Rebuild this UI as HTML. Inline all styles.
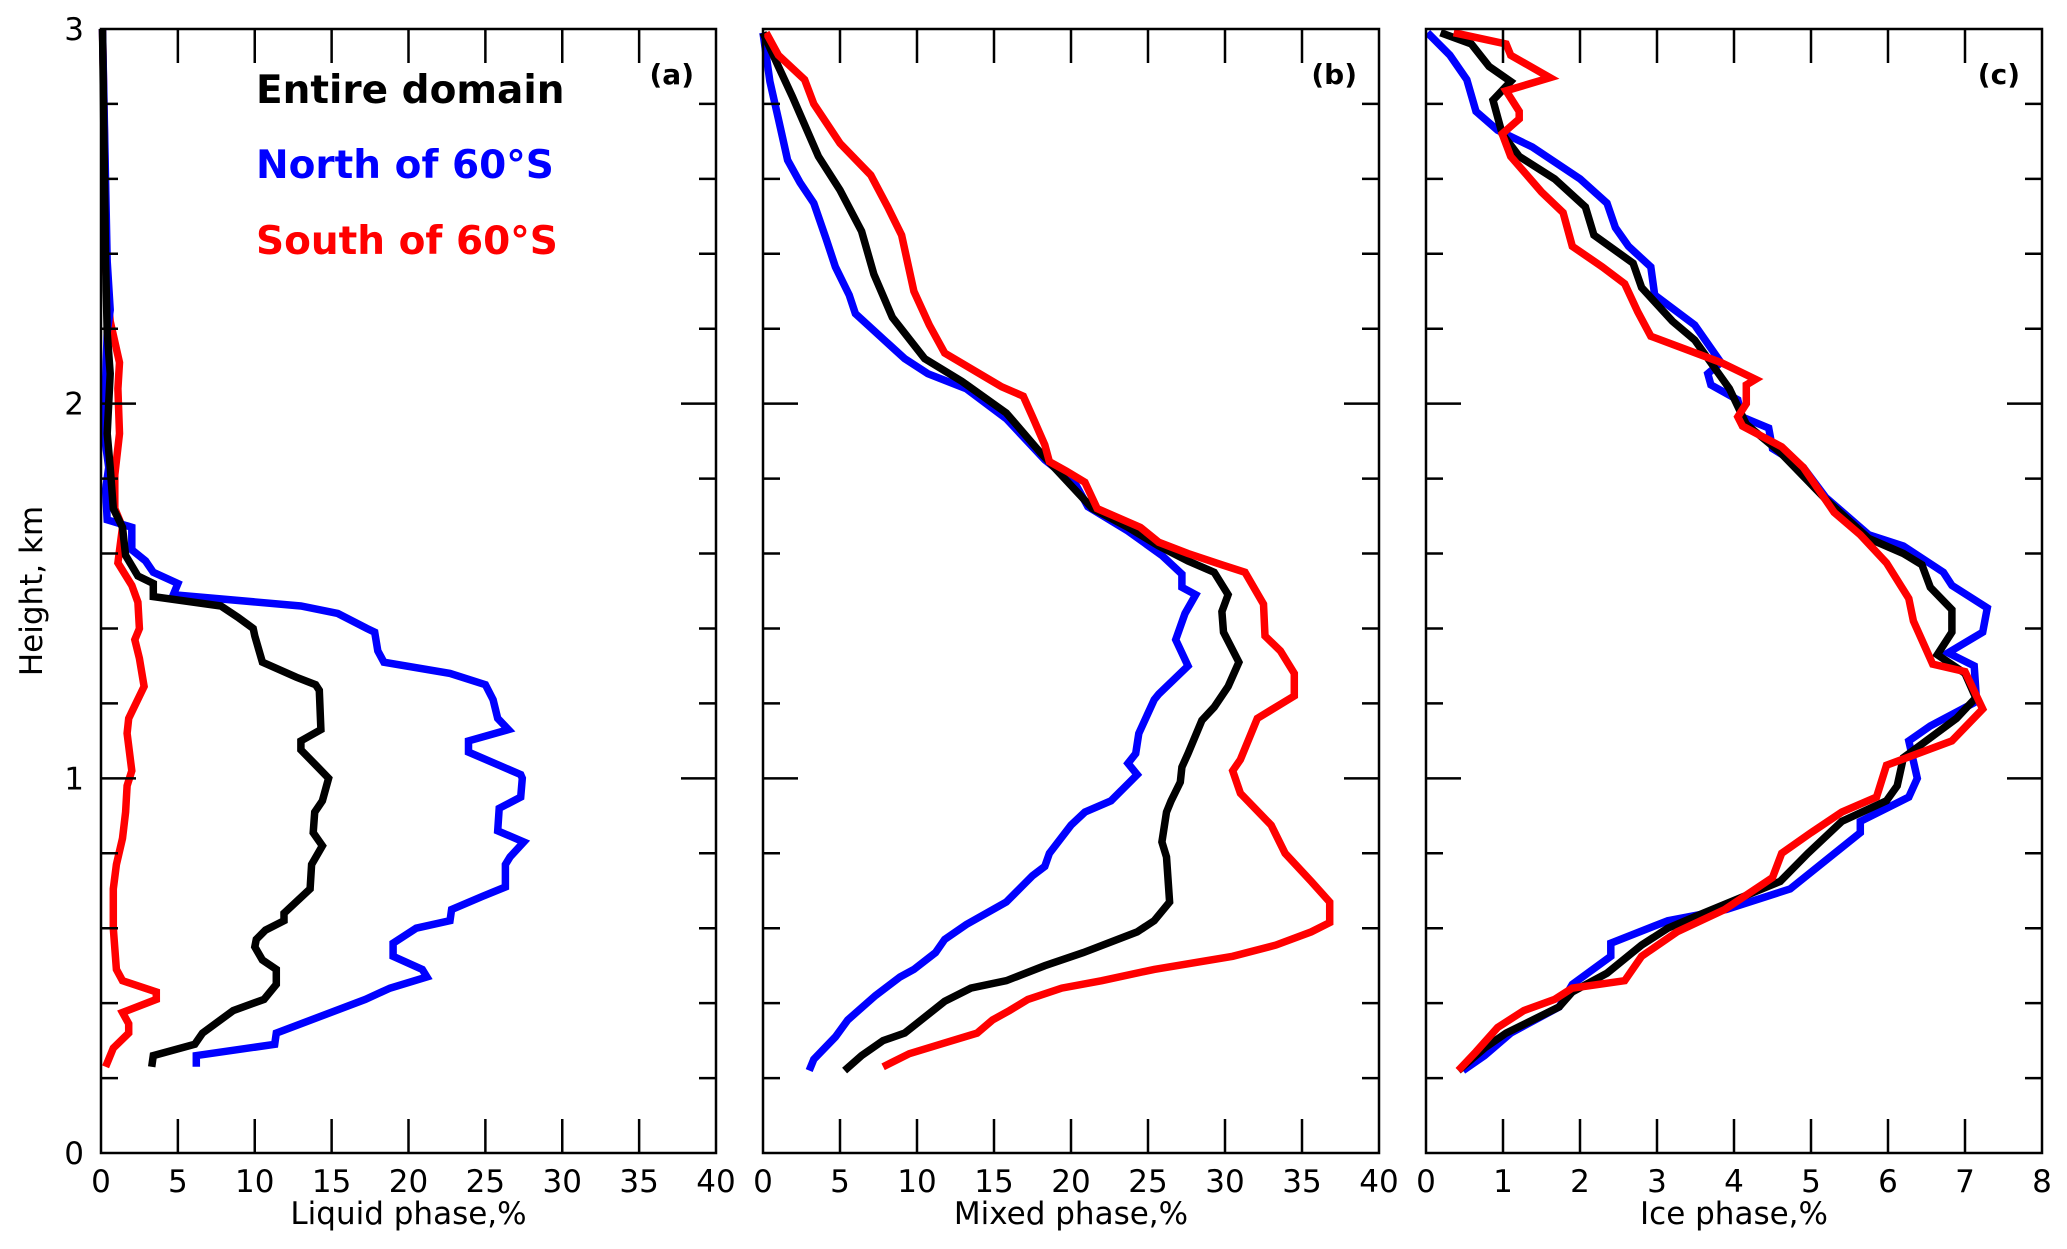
<!DOCTYPE html>
<html><head><meta charset="utf-8"><style>
body{margin:0;background:#fff}
svg text{font-family:"DejaVu Sans","Liberation Sans",sans-serif}
</style></head><body>
<svg id="chart" width="2067" height="1244" viewBox="0 0 2067 1244" xmlns="http://www.w3.org/2000/svg"></svg>
<script>
// Liquid phase (a)
const liqBlueH=[0.23,0.26,0.29,0.32,0.41,0.44,0.47,0.49,0.525,0.56,0.60,0.62,0.65,0.685,0.71,0.77,0.79,0.83,0.86,0.92,0.95,1.0,1.01,1.07,1.10,1.13,1.16,1.21,1.25,1.28,1.31,1.34,1.39,1.40,1.44,1.46,1.49,1.52,1.55,1.58,1.61,1.67,1.69,1.77,1.83,1.92,2.06,2.19,2.25,2.38,2.59,3.0];
const liqBlue=[6.2,6.2,11.3,11.4,17.2,18.8,21.2,20.9,19.0,19.0,20.5,22.7,22.8,24.8,26.3,26.3,26.6,27.5,25.8,25.9,27.3,27.4,27.3,23.9,23.9,26.5,25.8,25.5,25.0,22.7,18.4,18.0,17.8,17.3,15.4,13.0,4.7,5.0,3.4,2.9,2.0,2.0,0.4,0.3,0.5,0.2,0.3,0.4,0.6,0.4,0.3,0.1];
const liqBlackH=[0.23,0.26,0.29,0.32,0.38,0.41,0.45,0.49,0.515,0.55,0.57,0.595,0.62,0.64,0.705,0.77,0.82,0.855,0.91,0.94,1.0,1.03,1.076,1.10,1.13,1.235,1.25,1.27,1.31,1.38,1.40,1.43,1.46,1.485,1.52,1.54,1.595,1.67,1.72,1.83,1.92,2.08,2.19,2.38,3.0];
const liqBlack=[3.3,3.4,6.1,6.6,8.6,10.6,11.4,11.4,10.5,10.0,10.1,10.7,11.9,11.9,13.6,13.7,14.4,13.8,13.9,14.4,14.8,14.1,13.0,13.0,14.3,14.2,13.96,12.7,10.5,10.0,9.9,8.9,7.8,3.4,3.4,2.4,1.6,1.4,0.8,0.6,0.4,0.6,0.4,0.3,0.1];
const liqRedH=[0.23,0.28,0.32,0.345,0.375,0.41,0.43,0.46,0.49,0.60,0.705,0.77,0.84,0.91,0.98,1.02,1.12,1.16,1.245,1.32,1.37,1.40,1.47,1.515,1.575,1.67,1.72,1.81,1.92,2.04,2.11,2.22,2.36,2.55,3.0];
const liqRed=[0.3,0.8,1.8,1.8,1.4,3.6,3.6,1.4,1.0,0.8,0.8,1.0,1.4,1.6,1.7,2.0,1.7,1.8,2.8,2.5,2.2,2.5,2.4,2.0,1.1,1.4,0.9,0.9,1.2,1.1,1.2,0.6,0.3,0.3,0.1];
// Mixed phase (b)
const mixBlueH=[0.22,0.25,0.31,0.355,0.42,0.47,0.49,0.535,0.57,0.61,0.67,0.74,0.765,0.80,0.875,0.91,0.94,1.01,1.04,1.066,1.12,1.21,1.225,1.30,1.37,1.44,1.49,1.51,1.545,1.595,1.66,1.725,1.785,1.85,1.96,2.04,2.08,2.12,2.24,2.29,2.365,2.44,2.535,2.59,2.65,2.76,2.86,2.99];
const mixBlue=[3.0,3.3,4.7,5.5,7.3,8.9,9.8,11.2,11.8,13.2,15.8,17.5,18.3,18.6,20.0,20.9,22.6,24.3,23.7,24.2,24.4,25.4,25.7,27.6,26.8,27.4,28.1,27.2,27.2,25.9,23.7,21.1,20.3,18.3,15.8,13.2,10.7,9.2,6.0,5.6,4.7,4.1,3.3,2.4,1.6,1.0,0.45,0];
const mixBlackH=[0.22,0.26,0.30,0.32,0.405,0.44,0.46,0.50,0.535,0.59,0.62,0.67,0.79,0.83,0.91,0.94,0.99,1.03,1.066,1.155,1.19,1.245,1.31,1.39,1.445,1.49,1.55,1.58,1.62,1.67,1.72,1.795,1.87,1.975,2.06,2.12,2.23,2.345,2.46,2.57,2.66,2.82,2.90,2.99];
const mixBlack=[5.3,6.4,7.8,9.2,11.8,13.5,15.8,18.3,20.8,24.3,25.4,26.4,26.2,25.9,26.2,26.5,27.1,27.2,27.6,28.5,29.3,30.2,30.9,29.9,29.8,30.2,29.3,27.6,25.7,23.7,21.4,19.7,18.0,15.8,12.9,10.5,8.4,7.2,6.4,5.0,3.6,1.9,1.0,0];
const mixRedH=[0.23,0.265,0.29,0.32,0.355,0.38,0.41,0.44,0.46,0.49,0.525,0.555,0.59,0.615,0.67,0.725,0.80,0.875,0.96,1.02,1.05,1.16,1.22,1.28,1.34,1.38,1.465,1.55,1.57,1.60,1.63,1.67,1.72,1.79,1.82,1.845,1.89,1.965,2.02,2.045,2.135,2.21,2.30,2.45,2.525,2.61,2.695,2.80,2.865,2.93,2.99];
const mixRed=[7.8,9.5,11.5,13.9,14.9,16.0,17.2,19.4,22.0,25.4,30.5,33.3,35.6,36.8,36.8,35.6,33.9,33.0,31.0,30.5,31.0,32.1,34.5,34.5,33.6,32.6,32.5,31.3,29.8,27.6,25.7,24.5,21.7,20.9,19.7,18.6,18.3,17.5,16.9,15.5,11.8,10.8,9.8,9.0,8.1,7.0,5.0,3.3,2.7,1.0,0.2];
// Ice phase (c)
const iceBlueH=[0.22,0.26,0.32,0.39,0.45,0.525,0.56,0.62,0.65,0.705,0.855,0.885,0.95,1.0,1.10,1.14,1.205,1.30,1.335,1.39,1.455,1.515,1.55,1.62,1.65,1.75,1.83,1.88,1.935,1.965,2.01,2.05,2.08,2.11,2.21,2.29,2.365,2.42,2.47,2.535,2.6,2.685,2.73,2.78,2.865,2.93,2.99];
const iceBlue=[0.48,0.76,1.1,1.73,1.9,2.4,2.4,3.14,3.9,4.73,5.64,5.64,6.27,6.38,6.27,6.55,7.15,7.12,6.78,7.23,7.29,6.83,6.72,6.2,5.75,5.19,4.9,4.5,4.45,4.1,4.05,3.7,3.66,3.83,3.49,2.97,2.92,2.63,2.46,2.35,2.0,1.38,0.93,0.65,0.53,0.31,0.02];
const iceBlackH=[0.22,0.28,0.32,0.39,0.43,0.48,0.555,0.60,0.64,0.725,0.80,0.885,0.94,0.98,1.055,1.16,1.215,1.28,1.33,1.39,1.45,1.51,1.57,1.60,1.64,1.745,1.87,1.945,2.04,2.17,2.22,2.31,2.375,2.45,2.525,2.60,2.66,2.72,2.81,2.86,2.90,2.96,2.99];
const iceBlack=[0.42,0.76,1.04,1.73,1.9,2.35,2.8,3.14,3.6,4.6,4.96,5.4,5.98,6.12,6.2,6.89,7.14,7.0,6.64,6.83,6.83,6.55,6.44,6.2,5.75,5.19,4.6,4.16,3.94,3.49,3.2,2.8,2.69,2.18,2.07,1.67,1.21,0.99,0.87,1.1,0.82,0.59,0.19];
const iceRedH=[0.22,0.27,0.335,0.38,0.41,0.44,0.46,0.525,0.59,0.65,0.735,0.80,0.855,0.91,0.95,1.035,1.10,1.185,1.285,1.305,1.42,1.48,1.575,1.65,1.71,1.83,1.885,1.94,1.965,2.0,2.05,2.065,2.11,2.18,2.245,2.32,2.365,2.42,2.51,2.565,2.66,2.72,2.76,2.78,2.835,2.87,2.93,2.96,2.99];
const iceRed=[0.42,0.65,0.93,1.27,1.67,1.9,2.58,2.8,3.26,3.88,4.5,4.62,5.0,5.4,5.85,5.98,6.83,7.23,7.0,6.58,6.33,6.27,5.98,5.64,5.3,4.9,4.62,4.11,4.05,4.16,4.16,4.28,3.83,2.92,2.75,2.58,2.29,1.9,1.78,1.5,1.1,0.99,1.21,1.21,1.04,1.61,1.1,1.04,0.36];

const xTicksA=[0,5,10,15,20,25,30,35,40];
const xTicksC=[0,1,2,3,4,5,6,7,8];
const yLabels=[0,1,2,3];

const NS="http://www.w3.org/2000/svg";
const svg=document.getElementById('chart');
const TOP=29,BOT=1153;
function yS(h){return BOT-(BOT-TOP)*h/3;}
function el(tag,attrs,parent){const e=document.createElementNS(NS,tag);for(const k in attrs)e.setAttribute(k,attrs[k]);(parent||svg).appendChild(e);return e;}

const panels=[
 {name:'liquid',x0:101,x1:716,max:40,ticks:xTicksA,title:'Liquid phase,%',tag:'(a)',
  series:[[liqRedH,liqRed,'#ff0000','south'],[liqBlueH,liqBlue,'#0000ff','north'],[liqBlackH,liqBlack,'#000','entire']],ylab:true},
 {name:'mixed',x0:763,x1:1379,max:40,ticks:xTicksA,title:'Mixed phase,%',tag:'(b)',
  series:[[mixBlueH,mixBlue,'#0000ff','north'],[mixBlackH,mixBlack,'#000','entire'],[mixRedH,mixRed,'#ff0000','south']]},
 {name:'ice',x0:1426,x1:2042,max:8,ticks:xTicksC,title:'Ice phase,%',tag:'(c)',
  series:[[iceBlueH,iceBlue,'#0000ff','north'],[iceBlackH,iceBlack,'#000','entire'],[iceRedH,iceRed,'#ff0000','south']]}
];

panels.forEach(p=>{
  const g=el('g',{});
  
  
  const xS=v=>p.x0+(p.x1-p.x0)*v/p.max;
  p.series.forEach(s=>{
    const pts=s[0].map((h,i)=>xS(s[1][i]).toFixed(1)+','+yS(h).toFixed(1)).join(' ');
    const pl=el('polyline',{points:pts,fill:'none',stroke:s[2],'stroke-width':7.5,'stroke-linejoin':'miter','stroke-miterlimit':3},g);
    
    
  });
  const fr=el('rect',{x:p.x0,y:TOP,width:p.x1-p.x0,height:BOT-TOP,fill:'none',stroke:'#000','stroke-width':2.5},g);
  
  
  p.ticks.forEach(t=>{
    const x=xS(t);
    if(t>0&&t<p.max){
      el('line',{x1:x,x2:x,y1:BOT,y2:BOT-34,stroke:'#000','stroke-width':2.5},g);
      el('line',{x1:x,x2:x,y1:TOP,y2:TOP+34,stroke:'#000','stroke-width':2.5},g);
    }
    const tx=el('text',{x:x,y:1192,'font-size':31,'text-anchor':'middle'},g);
    tx.textContent=t;
    
    
  });
  for(let k=1;k<15;k++){
    const h=k*0.2,y=yS(h),L=(k%5===0)?35:17;
    el('line',{x1:p.x0,x2:p.x0+L,y1:y,y2:y,stroke:'#000','stroke-width':2.5},g);
    el('line',{x1:p.x1,x2:p.x1-L,y1:y,y2:y,stroke:'#000','stroke-width':2.5},g);
  }
  const tt=el('text',{x:(p.x0+p.x1)/2,y:1224,'font-size':31,'text-anchor':'middle'},g);
  tt.textContent=p.title;
  
  
  const tg=el('text',{x:p.x1-22,y:84,'font-size':28,'font-weight':'bold','text-anchor':'end'},g);
  tg.textContent=p.tag;
  
  
  if(p.ylab){
    yLabels.forEach(v=>{
      const t=el('text',{x:84,y:yS(v)+11,'font-size':31,'text-anchor':'end'},g);
      t.textContent=v;
      
      
    });
  }
});
const yt=el('text',{x:0,y:0,'font-size':31,'text-anchor':'middle',transform:'translate(42,591) rotate(-90)'});
yt.textContent='Height, km';



const legend=[['Entire domain','#000',103],['North of 60°S','#0000ff',178],['South of 60°S','#ff0000',254]];
legend.forEach(l=>{
  const t=el('text',{x:256,y:l[2],'font-size':39,'font-weight':'bold',fill:l[1]});
  t.textContent=l[0];
  
  
});
</script>
</body></html>
